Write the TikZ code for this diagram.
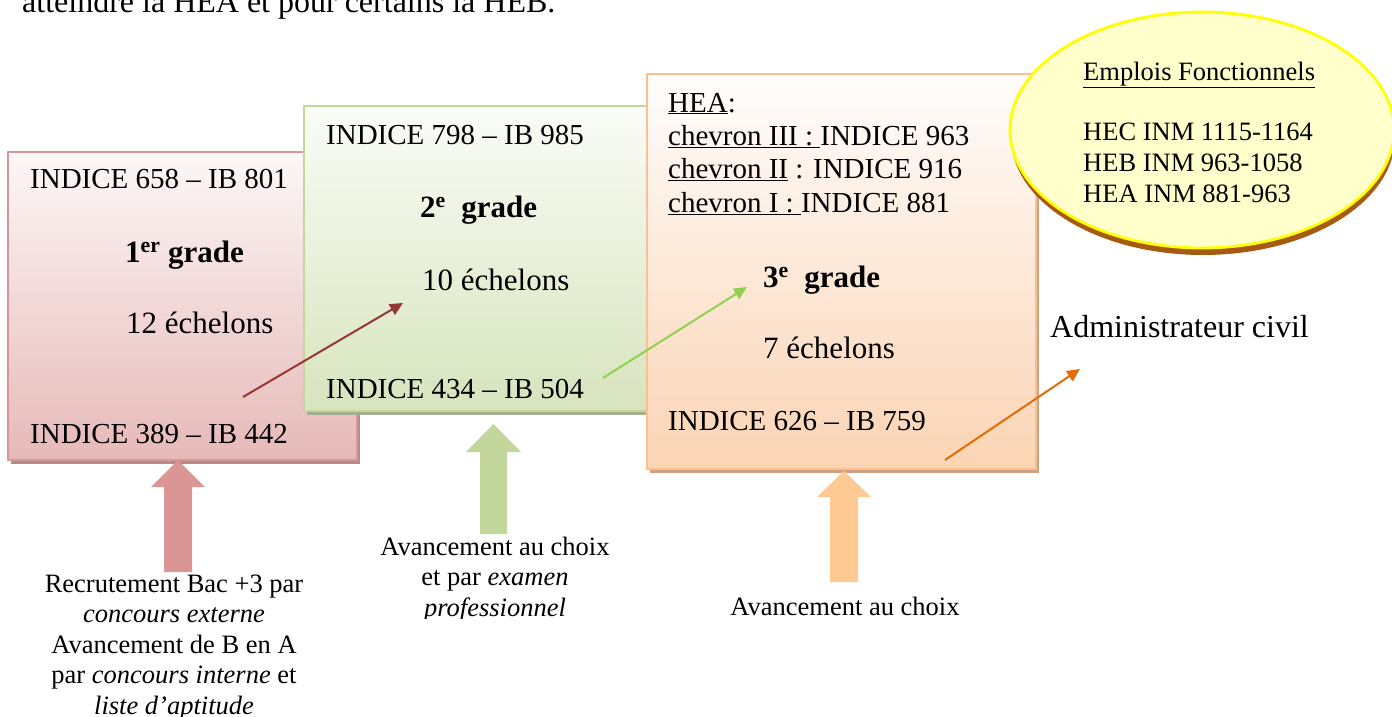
\documentclass[tikz,border=0pt]{standalone}
\usepackage{fontspec}
\setmainfont{Liberation Serif}
\usetikzlibrary{arrows.meta,shapes.geometric,shadows}

\definecolor{pinkline}{HTML}{D99694}
\definecolor{pinktop}{HTML}{FDF7F7}
\definecolor{pinkfill}{HTML}{E6B9B8}
\definecolor{pinkshadow}{HTML}{B08C8B}
\definecolor{greenline}{HTML}{C3D69B}
\definecolor{greentop}{HTML}{FAFCF7}
\definecolor{greenfill}{HTML}{D7E4BD}
\definecolor{greenshadow}{HTML}{A5AE91}
\definecolor{orangeline}{HTML}{FAC090}
\definecolor{orangetop}{HTML}{FFFDFC}
\definecolor{orangefill}{HTML}{FBD4B4}
\definecolor{orangeshadow}{HTML}{CFA283}
\definecolor{ellfill}{HTML}{FFFFCC}
\definecolor{ellline}{HTML}{FFFF00}
\definecolor{ellshadow}{HTML}{A65A12}
\definecolor{redarrow}{HTML}{953735}
\definecolor{greenarrow}{HTML}{92D050}
\definecolor{orangearrow}{HTML}{E36C09}
\definecolor{orangeblock}{HTML}{FFC993}

\begin{document}
\begin{tikzpicture}[
  x=1pt,y=-1pt,
  >={Triangle[length=13pt,width=12pt]},
  gbox/.style={rectangle,line width=2pt,inner sep=0pt},
  txt/.style={anchor=base west,inner sep=0pt,font=\fontsize{29}{33.3}\selectfont},
  big/.style={anchor=base west,inner sep=0pt,font=\fontsize{31}{35}\selectfont},
  gname/.style={big,font=\fontsize{31}{35}\selectfont\bfseries},
  captxt/.style={anchor=base,inner sep=0pt,align=center,font=\fontsize{26.5}{30.5}\selectfont},
  link/.style={->,line width=2pt}
]
\useasboundingbox (0,0) rectangle (1392,717);
\clip (0,0) rectangle (1392,717);

% line of text cut by the top edge
\node[anchor=base west,inner sep=0pt,font=\fontsize{32}{36}\selectfont] (intro) at (22,13)
  {atteindre la HEA et pour certains la HEB.};

% the three grades
\node[gbox,draw=pinkline,top color=pinktop,bottom color=pinkfill,
  drop shadow={shadow xshift=3pt,shadow yshift=-4pt,fill=pinkshadow,opacity=1},
  minimum width=349pt,minimum height=308pt] (g1) at (182.5,306) {};
\node[gbox,draw=greenline,top color=greentop,bottom color=greenfill,
  drop shadow={shadow xshift=3pt,shadow yshift=-4pt,fill=greenshadow,opacity=1},
  minimum width=343pt,minimum height=305pt] (g2) at (475.5,258.5) {};
\node[gbox,draw=orangeline,top color=orangetop,bottom color=orangefill,
  drop shadow={shadow xshift=3pt,shadow yshift=-4pt,fill=orangeshadow,opacity=1},
  minimum width=389pt,minimum height=395pt] (g3) at (841.5,271.5) {};

% emplois fonctionnels
\node[ellipse,draw=ellline,fill=ellfill,line width=2.8pt,
  drop shadow={shadow xshift=1pt,shadow yshift=-7pt,fill=ellshadow,opacity=1},
  minimum width=384pt,minimum height=236pt] (ef) at (1202,130) {};

% 1er grade
\node[txt] (g1top) at (30,188) {INDICE 658 -- IB 801};
\node[gname] (g1name) at (125,262) {1\textsuperscript{er} grade};
\node[big] (g1ech) at (126,333) {12 échelons};
\node[txt] (g1bot) at (30,443) {INDICE 389 -- IB 442};

% 2e grade
\node[txt] (g2top) at (326,144) {INDICE 798 -- IB 985};
\node[gname] (g2name) at (420,217) {2\textsuperscript{e}\ \ grade};
\node[big] (g2ech) at (422,290) {10 échelons};
\node[txt] (g2bot) at (326,398) {INDICE 434 -- IB 504};

% 3e grade (multi-line nodes sit on their last baseline)
\node[txt,align=left] (hea) at (668,212)
  {\underline{HEA}:\\ \underline{chevron III :\ }INDICE 963\\
   \underline{chevron II} : INDICE 916\\ \underline{chevron I :\ }INDICE 881};
\node[gname] (g3name) at (763,287) {3\textsuperscript{e}\ \ grade};
\node[big] (g3ech) at (763,358) {7 échelons};
\node[txt] (g3bot) at (668,430) {INDICE 626 -- IB 759};

\node[txt,align=left,font=\fontsize{26.5}{31}\selectfont] (eftxt) at (1083,202)
  {\underline{Emplois Fonctionnels}\\[29pt] HEC INM 1115-1164\\ HEB INM 963-1058\\ HEA INM 881-963};

\node[big,font=\fontsize{32}{36}\selectfont] (admin) at (1050,337) {Administrateur civil};

% passages
\coordinate (r0) at (243,397);
\coordinate (r1) at (403,303);
\coordinate (v0) at (603,378);
\coordinate (v1) at (747,287);
\coordinate (o0) at (945,460);
\coordinate (o1) at (1080,369);
\draw[link,redarrow] (r0) -- (r1);
\draw[link,greenarrow] (v0) -- (v1);
\draw[link,orangearrow] (o0) -- (o1);

% entry arrows
\fill[pinkline] (178,460) -- (205,487) -- (192,487) -- (192,572) -- (164,572) -- (164,487) -- (151,487) -- cycle;
\fill[greenline] (493.5,424) -- (521,452) -- (507,452) -- (507,534) -- (480,534) -- (480,452) -- (466,452) -- cycle;
\fill[orangeblock] (844,471) -- (871,497) -- (858,497) -- (858,582) -- (830,582) -- (830,497) -- (817,497) -- cycle;

% captions
\node[captxt] (cap1) at (174,714)
  {Recrutement Bac +3 par\\ \textit{concours externe}\\ Avancement de B en A\\
   par \textit{concours interne} et\\ \textit{liste d'aptitude}};
\begin{scope}
  \clip (300,530) rectangle (700,618);
  \node[captxt] (cap2) at (495,616) {Avancement au choix\\ et par \textit{examen}\\ \textit{professionnel}};
\end{scope}
\node[captxt] (cap3) at (845,615) {Avancement au choix};

\end{tikzpicture}
\end{document}
